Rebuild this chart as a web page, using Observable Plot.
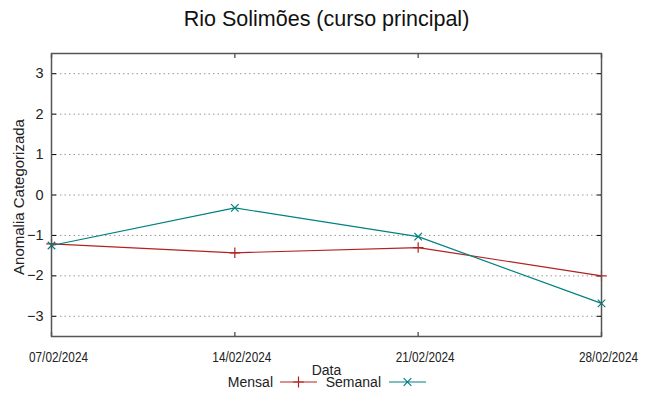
<!DOCTYPE html>
<html><head><meta charset="utf-8">
<script src="https://cdn.jsdelivr.net/npm/d3@7"></script>
<script src="https://cdn.jsdelivr.net/npm/@observablehq/plot@0.6"></script>
<style>body{margin:0;background:#fff}</style>
</head><body><div id="chart"></div>
<script>
const dates = ["2024-02-07","2024-02-14","2024-02-21","2024-02-28"];
const mensal = [-1.21, -1.43, -1.30, -2.00];
const semanal = [-1.25, -0.32, -1.03, -2.68];
const yTicks = [-3, -2, -1, 0, 1, 2, 3];
const seriesNames = ["Mensal", "Semanal"];
const seriesColors = ["#b22222", "#008080"];
const title = "Rio Solimões (curso principal)";
const xLabel = "Data";
const yLabel = "Anomalia Categorizada";

const parse = d3.utcParse("%Y-%m-%d");
const xDates = dates.map(parse);
const rows = [];
[mensal, semanal].forEach((vals, i) => vals.forEach((v, j) => rows.push({date: xDates[j], value: v, series: seriesNames[i]})));
const fmt = d3.utcFormat("%d/%m/%Y");

const chart = Plot.plot({
  width: 649, height: 396,
  marginLeft: 51, marginRight: 48, marginTop: 53, marginBottom: 60,
  style: {fontFamily: "'Liberation Sans', Arial, sans-serif", fontSize: "14px", background: "white", color: "#222"},
  x: {type: "utc", domain: [xDates[0], xDates[xDates.length - 1]]},
  y: {domain: [-3.5, 3.5]},
  color: {domain: seriesNames, range: seriesColors},
  marks: [
    Plot.gridY(yTicks, {stroke: "#999", strokeOpacity: 1, strokeDasharray: "1.5,3"}),
    Plot.axisY(yTicks, {anchor: "left", tickSize: 0, tickPadding: 8, fontSize: 14.5, label: null}),
    Plot.axisY(yTicks, {anchor: "left", tickSize: -5, tickFormat: () => "", label: null, stroke: "#000"}),
    Plot.axisY(yTicks, {anchor: "right", tickSize: -5, tickFormat: () => "", label: null, stroke: "#000"}),
    Plot.axisX(xDates, {anchor: "bottom", tickSize: 0, tickPadding: 15, dx: 7, tickFormat: fmt, label: null, fontSize: 15}),
    Plot.axisX(xDates, {anchor: "bottom", tickSize: -4, tickFormat: () => "", label: null, stroke: "#666", strokeWidth: 1.5}),
    Plot.axisX(xDates, {anchor: "top", tickSize: -4, tickFormat: () => "", label: null, stroke: "#666", strokeWidth: 1.5}),
    Plot.line(rows, {x: "date", y: "value", z: "series", stroke: "series", strokeWidth: 1.2}),
    Plot.dot(rows.filter(d => d.series === seriesNames[0]), {x: "date", y: "value", symbol: () => "plus", stroke: seriesColors[0], r: 3.5, strokeWidth: 1.2}),
    Plot.dot(rows.filter(d => d.series === seriesNames[1]), {x: "date", y: "value", symbol: () => "times", stroke: seriesColors[1], r: 3.5, strokeWidth: 1.2}),
    Plot.frame({stroke: "#555", strokeWidth: 1.5}),
    Plot.text([title], {frameAnchor: "top", dy: -34, lineAnchor: "middle", fontSize: 21.5, fill: "#111"}),
    Plot.text([xLabel], {frameAnchor: "bottom", dy: 34, lineAnchor: "middle", fontSize: 14, fill: "#222"}),
    Plot.text([yLabel], {frameAnchor: "left", dx: -32, dy: 2, rotate: -90, textAnchor: "middle", lineAnchor: "middle", fontSize: 15, fill: "#222"})
  ]
});
document.getElementById("chart").appendChild(chart);

const svg = d3.select(chart);
// condensed x tick labels
svg.selectAll('g[aria-label="x-axis tick label"] text')
  .attr("textLength", 59).attr("lengthAdjust", "spacingAndGlyphs");

// legend
const lg = svg.append("g").attr("font-size", 14).attr("fill", "#222");
const legendY = 382;
const items = [
  {label: seriesNames[0], textEnd: 273, x1: 280, x2: 317, color: seriesColors[0], sym: d3.symbolPlus},
  {label: seriesNames[1], textEnd: 381, x1: 389, x2: 426, color: seriesColors[1], sym: d3.symbolTimes}
];
items.forEach(it => {
  lg.append("text").attr("x", it.textEnd).attr("y", legendY).attr("dy", "0.35em").attr("text-anchor", "end").text(it.label);
  lg.append("line").attr("x1", it.x1).attr("x2", it.x2).attr("y1", legendY).attr("y2", legendY).attr("stroke", it.color).attr("stroke-width", 1.2);
  const cx = (it.x1 + it.x2) / 2;
  lg.append("path").attr("transform", `translate(${cx},${legendY})`).attr("d", d3.symbol(it.sym, 40)()).attr("fill", "none").attr("stroke", it.color).attr("stroke-width", 1.2);
});
</script>
</body></html>
